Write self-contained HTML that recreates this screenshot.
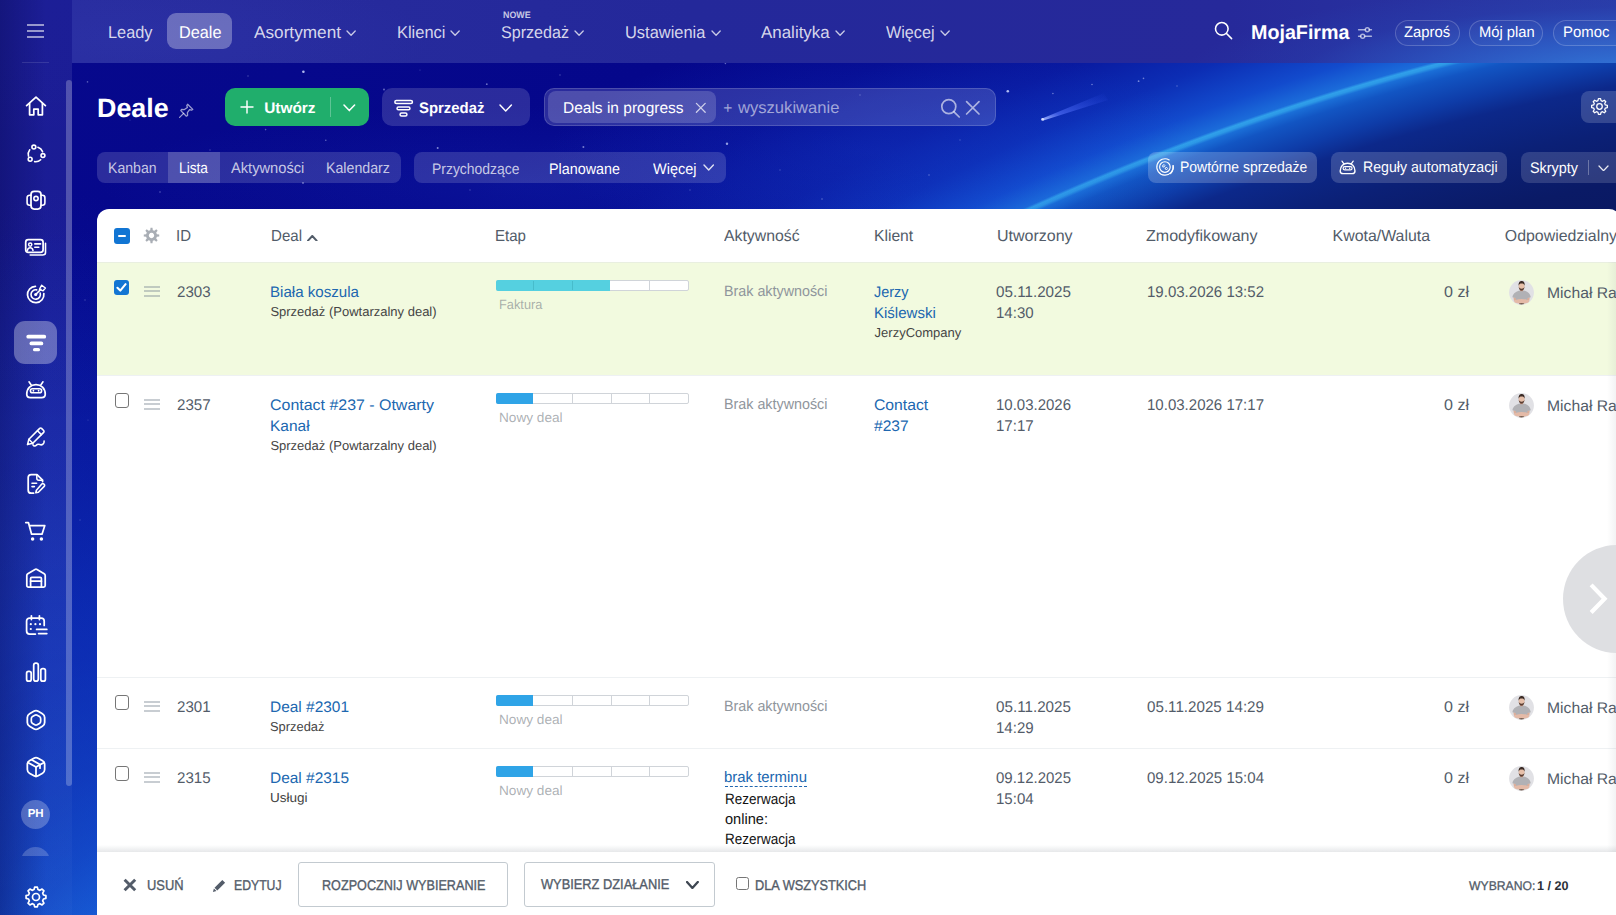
<!DOCTYPE html>
<html lang="pl">
<head>
<meta charset="utf-8">
<title>Deale</title>
<style>
*{box-sizing:border-box;margin:0;padding:0}
html,body{width:1616px;height:915px;overflow:hidden}
body{text-rendering:geometricPrecision;font-family:"Liberation Sans",sans-serif;color:#fff;position:relative;background:#05078b}
.abs{position:absolute}
.t{position:absolute;white-space:nowrap;transform-origin:0 50%}
svg{display:block}
#bg{position:absolute;left:0;top:0;width:1616px;height:915px;overflow:hidden;
 background:
  radial-gradient(ellipse 330px 110px at 880px 150px,rgba(24,70,215,.26),rgba(24,70,215,0)),
  radial-gradient(ellipse 420px 80px at 520px 185px,rgba(30,60,200,.2),rgba(30,60,200,0)),
  linear-gradient(180deg,rgba(16,60,205,0) 230px,rgba(16,60,205,.22) 420px,rgba(16,62,205,.4) 640px,rgba(16,62,205,.3) 915px),
  radial-gradient(ellipse 330px 820px at 60px 1010px, rgba(40,140,225,.5) 0%, rgba(30,115,215,.42) 22%, rgba(22,85,205,.3) 45%, rgba(18,60,190,.16) 70%, rgba(15,40,175,0) 100%),
  radial-gradient(circle 3400px at 2067px 2489px,#06104a 0.000%,#081455 64.706%,#0a1a66 69.118%,#0b2076 70.588%,#0c288a 71.912%,#0e3ca8 72.500%,#1255c3 73.235%,#1a6ed7 73.529%,#2c98e6 73.618%,#30a0ea 73.691%,#1b6cda 73.765%,#124bcd 74.412%,#0c2db4 75.588%,#091aa0 77.059%,#060c91 79.412%,#05078b 82.353%,#080a8d 100.000%);}
#navstrip{position:absolute;left:72px;top:0;width:1544px;height:63px;background:
 radial-gradient(ellipse 460px 95px at 1570px 78px,rgba(52,128,222,.95) 0%,rgba(46,104,208,.7) 40%,rgba(40,70,180,.3) 75%,rgba(38,44,156,0) 100%),
 radial-gradient(ellipse 300px 70px at 60px 40px,rgba(50,58,178,.3),rgba(50,58,178,0)),
 linear-gradient(90deg,#282c9e 0%,#24289a 40%,#26299a 75%,#2a3aa6 100%)}
#side{position:absolute;left:0;top:0;width:72px;height:915px;background:linear-gradient(90deg,rgba(0,0,60,.28) 0,rgba(0,0,60,0) 46px),linear-gradient(180deg,rgba(255,255,255,.085) 0%,rgba(255,255,255,.07) 60%,rgba(255,255,255,.02) 100%)}
#sb{position:absolute;left:66px;top:80px;width:6px;height:706px;border-radius:3px;background:rgba(255,255,255,.24)}
.gl{background:rgba(255,255,255,.15);position:absolute}
#panel{position:absolute;left:97px;top:209px;width:1524px;height:706px;background:#fff;border-radius:12px 12px 0 0;overflow:hidden;color:#535c69}
</style>
</head>
<body>
<div id="bg"><svg class="abs" style="left:0;top:0" width="1616" height="915"><defs><linearGradient id="cm" x1="0" y1="1" x2="1" y2="0"><stop offset="0" stop-color="#b8c8ff" stop-opacity=".95"/><stop offset=".25" stop-color="#5a78ff" stop-opacity=".6"/><stop offset="1" stop-color="#3050f0" stop-opacity="0"/></linearGradient></defs><path d="M1041.5 118.8 L1104 93 L1108 100 L1043.4 120.6 Z" fill="url(#cm)"/><circle cx="1042.6" cy="119.4" r="1.4" fill="#dfe6ff" opacity=".9"/><circle cx="303.4" cy="71.8" r="1.3" fill="#cfd8ff" opacity="0.85"/><circle cx="486.8" cy="84.2" r="0.9" fill="#cfd8ff" opacity="0.50"/><circle cx="437.7" cy="148.0" r="1.0" fill="#cfd8ff" opacity="0.60"/><circle cx="325.8" cy="140.3" r="0.8" fill="#cfd8ff" opacity="0.45"/><circle cx="265.6" cy="129.6" r="0.8" fill="#cfd8ff" opacity="0.40"/><circle cx="384.0" cy="89.5" r="0.9" fill="#cfd8ff" opacity="0.50"/><circle cx="303.0" cy="183.0" r="0.9" fill="#cfd8ff" opacity="0.50"/><circle cx="160.0" cy="192.0" r="0.8" fill="#cfd8ff" opacity="0.40"/><circle cx="87.5" cy="81.9" r="0.8" fill="#cfd8ff" opacity="0.40"/><circle cx="1007.8" cy="91.2" r="1.3" fill="#cfd8ff" opacity="0.85"/><circle cx="727.0" cy="143.7" r="1.2" fill="#cfd8ff" opacity="0.70"/><circle cx="583.4" cy="147.0" r="1.0" fill="#cfd8ff" opacity="0.55"/><circle cx="725.4" cy="63.5" r="0.8" fill="#cfd8ff" opacity="0.45"/><circle cx="1052.9" cy="93.5" r="0.8" fill="#cfd8ff" opacity="0.50"/><circle cx="929.0" cy="175.0" r="0.8" fill="#cfd8ff" opacity="0.40"/><circle cx="822.0" cy="199.0" r="0.8" fill="#cfd8ff" opacity="0.40"/><circle cx="1092.0" cy="84.5" r="0.8" fill="#cfd8ff" opacity="0.50"/><circle cx="1138.6" cy="81.2" r="0.9" fill="#cfd8ff" opacity="0.55"/><circle cx="1143.5" cy="78.4" r="0.8" fill="#cfd8ff" opacity="0.50"/><circle cx="1177.0" cy="86.0" r="0.7" fill="#cfd8ff" opacity="0.40"/><circle cx="640.0" cy="110.0" r="0.7" fill="#cfd8ff" opacity="0.35"/><circle cx="560.0" cy="75.0" r="0.7" fill="#cfd8ff" opacity="0.35"/><circle cx="860.0" cy="95.0" r="0.7" fill="#cfd8ff" opacity="0.35"/><circle cx="780.0" cy="170.0" r="0.7" fill="#cfd8ff" opacity="0.30"/><circle cx="470.0" cy="190.0" r="0.7" fill="#cfd8ff" opacity="0.30"/><circle cx="210.0" cy="150.0" r="0.7" fill="#cfd8ff" opacity="0.30"/><circle cx="130.0" cy="120.0" r="0.6" fill="#cfd8ff" opacity="0.30"/><circle cx="690.0" cy="190.0" r="0.7" fill="#cfd8ff" opacity="0.30"/><circle cx="960.0" cy="140.0" r="0.7" fill="#cfd8ff" opacity="0.30"/><circle cx="85.0" cy="300.0" r="0.7" fill="#cfd8ff" opacity="0.30"/><circle cx="80.0" cy="520.0" r="0.7" fill="#cfd8ff" opacity="0.25"/><circle cx="88.0" cy="420.0" r="0.6" fill="#cfd8ff" opacity="0.25"/><circle cx="248.0" cy="76.0" r="0.7" fill="#cfd8ff" opacity="0.35"/><circle cx="420.0" cy="70.0" r="0.6" fill="#cfd8ff" opacity="0.30"/></svg>
</div>
<div id="side"></div>
<div id="navstrip"></div>
<div id="sb"></div>
<div class="abs" style="left:27px;top:23.5px;width:17px;height:14px;border-top:2px solid rgba(255,255,255,.55);border-bottom:2px solid rgba(255,255,255,.55)"><div style="margin-top:4px;height:2px;background:rgba(255,255,255,.55)"></div></div>
<div class="abs" style="left:22px;top:62px;width:27px;height:1px;background:rgba(255,255,255,.12)"></div>
<div class="abs" style="left:14px;top:321px;width:43px;height:43px;border-radius:11px;background:rgba(255,255,255,.32)"></div>
<svg class="abs" style="left:23.5px;top:94.0px" width="24" height="24" viewBox="0 0 24 24" fill="none" stroke="#fff" stroke-width="1.75" stroke-linecap="round" stroke-linejoin="round"><path d="M2.6 11.6 L12 3.2 L21.4 11.6"/><path d="M5.6 9.6 V20.8 H9.8 V15.2 H14.2 V20.8 H18.4 V9.6"/></svg>
<svg class="abs" style="left:23.5px;top:141.0px" width="24" height="24" viewBox="0 0 24 24" fill="none" stroke="#fff" stroke-width="1.75" stroke-linecap="round" stroke-linejoin="round"><circle cx="9.86" cy="6.12" r="1.95" stroke-width="1.6"/><circle cx="18.94" cy="14.58" r="1.95" stroke-width="1.6"/><circle cx="6.15" cy="18.25" r="1.95" stroke-width="1.6"/><path d="M13.94 6.26 A7.40 7.40 0 0 1 18.56 10.65" stroke-width="1.6"/><path d="M16.70 18.71 A7.40 7.40 0 0 1 10.62 20.63" stroke-width="1.6"/><path d="M4.47 15.09 A7.40 7.40 0 0 1 5.74 8.85" stroke-width="1.6"/></svg>
<svg class="abs" style="left:23.5px;top:188.0px" width="24" height="24" viewBox="0 0 24 24" fill="none" stroke="#fff" stroke-width="1.75" stroke-linecap="round" stroke-linejoin="round"><rect x="7" y="3.4" width="10" height="17.6" rx="3.2"/><circle cx="12" cy="10.5" r="2.15" stroke-width="1.6"/><path d="M7 7.2 H5.6 a2.5 2.5 0 0 0 -2.5 2.5 V14.7 a2.5 2.5 0 0 0 2.5 2.5 H7" stroke-width="1.6"/><path d="M17 7.2 H18.4 a2.5 2.5 0 0 1 2.5 2.5 V14.7 a2.5 2.5 0 0 1 -2.5 2.5 H17" stroke-width="1.6"/></svg>
<svg class="abs" style="left:23.5px;top:235.0px" width="24" height="24" viewBox="0 0 24 24" fill="none" stroke="#fff" stroke-width="1.75" stroke-linecap="round" stroke-linejoin="round"><rect x="1.7" y="4.7" width="17.4" height="12.6" rx="2.6"/><path d="M21.5 8.2 V17.4 a2.6 2.6 0 0 1 -2.6 2.6 H6.2" stroke-width="1.6"/><circle cx="6.2" cy="9.6" r="1.6" stroke-width="1.5"/><path d="M3.4 15.6 c0.2-2 1.3-2.9 2.8-2.9 s2.6 0.9 2.8 2.9" stroke-width="1.5"/><path d="M10.8 8.9 H16.6" stroke-width="1.6"/><path d="M10.8 12.2 H14.8" stroke-width="1.6"/></svg>
<svg class="abs" style="left:23.5px;top:282.0px" width="24" height="24" viewBox="0 0 24 24" fill="none" stroke="#fff" stroke-width="1.75" stroke-linecap="round" stroke-linejoin="round"><path d="M11.41 4.30 A8.20 8.20 0 1 0 19.86 11.64"/><path d="M12.68 7.90 A4.70 4.70 0 1 0 16.17 11.05" stroke-width="1.6"/><circle cx="11.7" cy="12.5" r="1.6" fill="#fff" stroke="none"/><path d="M11.7 12.5 L16.8 7.4" stroke-width="1.6"/><path d="M17.7 3.2 L21.4 6 L19.1 8.8 L15.4 7.4 Z" stroke-width="1.4"/></svg>
<svg class="abs" style="left:23.5px;top:330.0px" width="24" height="24" viewBox="0 0 24 24" fill="none" stroke="#fff" stroke-width="1.75" stroke-linecap="round" stroke-linejoin="round"><g stroke-width="3.7"><path d="M4.2 6.7 H20.3"/><path d="M7.4 13.4 H17.4"/><path d="M10.6 19.7 H14.4" stroke-width="3.3"/></g></svg>
<svg class="abs" style="left:23.5px;top:378.2px" width="24" height="24" viewBox="0 0 24 24" fill="none" stroke="#fff" stroke-width="1.75" stroke-linecap="round" stroke-linejoin="round"><path d="M2.75 16.2 C2.75 10 7 6.55 12 6.55 C17 6.55 21.25 10 21.25 16.2 C21.25 18.6 20 19.55 17.6 19.55 H6.4 C4 19.55 2.75 18.6 2.75 16.2 Z"/><rect x="6.4" y="10.7" width="11.2" height="4.1" rx="2.05" stroke-width="1.6"/><circle cx="9.4" cy="12.75" r="0.9" fill="#fff" stroke="none"/><circle cx="14.6" cy="12.75" r="0.9" fill="#fff" stroke="none"/><path d="M7.2 7 L5 3.8" stroke-width="1.6"/><path d="M16.8 7 L19 3.8" stroke-width="1.6"/></svg>
<svg class="abs" style="left:23.5px;top:425.0px" width="24" height="24" viewBox="0 0 24 24" fill="none" stroke="#fff" stroke-width="1.75" stroke-linecap="round" stroke-linejoin="round"><path d="M15.7 3.4 a1.3 1.3 0 0 1 1.84 0 l2.1 2.1 a1.3 1.3 0 0 1 0 1.84 L8.8 18.2 L3.5 19.6 L4.9 14.3 Z" stroke-width="1.6"/><path d="M13.5 5.7 L17.4 9.6" stroke-width="1.5"/><path d="M4.9 14.3 L8.8 18.2" stroke-width="1.5"/><path d="M9 19.8 c0.9 1.7 2.5 1.5 3.3 0.5 c0.8-1 2-1.3 3.5-0.7 c2.4 0.9 4.6-0.8 4.3-3.5" stroke-width="1.6"/></svg>
<svg class="abs" style="left:23.5px;top:471.6px" width="24" height="24" viewBox="0 0 24 24" fill="none" stroke="#fff" stroke-width="1.75" stroke-linecap="round" stroke-linejoin="round"><path d="M9.6 21.2 H7.2 a3 3 0 0 1 -3-3 V5.6 a3 3 0 0 1 3-3 H13 L18.6 8.2 V9.6"/><path d="M12.8 2.8 V6.2 a2 2 0 0 0 2 2 H18.4" stroke-width="1.5"/><path d="M8 11.2 H12.6" stroke-width="1.6"/><path d="M8 14.6 H10.4" stroke-width="1.6"/><path d="M17.8 12 a1.4 1.4 0 0 1 2 0 l0.4 0.4 a1.4 1.4 0 0 1 0 2 L14.4 20.2 L11.8 20.8 L12.4 18.2 Z" stroke-width="1.6"/></svg>
<svg class="abs" style="left:23.5px;top:519.0px" width="24" height="24" viewBox="0 0 24 24" fill="none" stroke="#fff" stroke-width="1.75" stroke-linecap="round" stroke-linejoin="round"><path d="M1.8 3.6 H4.4 L7.6 15.2 H18 L20.8 6.6 H5.4"/><circle cx="8.6" cy="19.9" r="1.75" fill="#fff" stroke="none"/><circle cx="17.4" cy="19.9" r="1.75" fill="#fff" stroke="none"/></svg>
<svg class="abs" style="left:23.5px;top:565.6px" width="24" height="24" viewBox="0 0 24 24" fill="none" stroke="#fff" stroke-width="1.75" stroke-linecap="round" stroke-linejoin="round"><path d="M2.8 19.4 V9.4 a2 2 0 0 1 1-1.7 L11 3.5 a2 2 0 0 1 2 0 L20.2 7.7 a2 2 0 0 1 1 1.7 V19.4 a1.6 1.6 0 0 1 -1.6 1.6 H4.4 a1.6 1.6 0 0 1 -1.6-1.6 Z"/><path d="M6.6 21 V12.6 a1.2 1.2 0 0 1 1.2-1.2 H16.2 a1.2 1.2 0 0 1 1.2 1.2 V21"/><path d="M6.6 15.2 H17.4"/></svg>
<svg class="abs" style="left:23.5px;top:612.8px" width="24" height="24" viewBox="0 0 24 24" fill="none" stroke="#fff" stroke-width="1.75" stroke-linecap="round" stroke-linejoin="round"><path d="M11.4 21 H5.6 a3 3 0 0 1 -3-3 V8 a3 3 0 0 1 3-3 H17.2 a3 3 0 0 1 3 3 V12.4"/><path d="M7.4 2.8 V6.6"/><path d="M15.4 2.8 V6.6"/><g fill="#fff" stroke="none"><circle cx="6.8" cy="11.2" r="1.1"/><circle cx="11.4" cy="11.2" r="1.1"/><circle cx="16" cy="11.2" r="1.1"/><circle cx="6.8" cy="16" r="1.1"/></g><path d="M12.6 16.4 H22.8"/><path d="M14.6 20.6 H22.8"/></svg>
<svg class="abs" style="left:23.5px;top:659.8px" width="24" height="24" viewBox="0 0 24 24" fill="none" stroke="#fff" stroke-width="1.75" stroke-linecap="round" stroke-linejoin="round"><rect x="2.6" y="11.4" width="4.6" height="9.8" rx="2"/><rect x="9.7" y="3" width="4.6" height="18.2" rx="2.2"/><rect x="16.8" y="8.6" width="4.6" height="12.6" rx="2"/></svg>
<svg class="abs" style="left:23.5px;top:708.0px" width="24" height="24" viewBox="0 0 24 24" fill="none" stroke="#fff" stroke-width="1.75" stroke-linecap="round" stroke-linejoin="round"><path d="M9.75 3.30 Q12.00 2.00 14.25 3.30 L18.41 5.70 Q20.66 7.00 20.66 9.60 L20.66 14.40 Q20.66 17.00 18.41 18.30 L14.25 20.70 Q12.00 22.00 9.75 20.70 L5.59 18.30 Q3.34 17.00 3.34 14.40 L3.34 9.60 Q3.34 7.00 5.59 5.70 Z" stroke-width="1.8"/><path d="M10.79 7.30 Q12.00 6.60 13.21 7.30 L15.46 8.60 Q16.68 9.30 16.68 10.70 L16.68 13.30 Q16.68 14.70 15.46 15.40 L13.21 16.70 Q12.00 17.40 10.79 16.70 L8.54 15.40 Q7.32 14.70 7.32 13.30 L7.32 10.70 Q7.32 9.30 8.54 8.60 Z" stroke-width="1.7"/></svg>
<svg class="abs" style="left:23.5px;top:755.0px" width="24" height="24" viewBox="0 0 24 24" fill="none" stroke="#fff" stroke-width="1.75" stroke-linecap="round" stroke-linejoin="round"><path d="M9.92 3.20 Q12.00 2.00 14.08 3.20 L18.58 5.80 Q20.66 7.00 20.66 9.40 L20.66 14.60 Q20.66 17.00 18.58 18.20 L14.08 20.80 Q12.00 22.00 9.92 20.80 L5.42 18.20 Q3.34 17.00 3.34 14.60 L3.34 9.40 Q3.34 7.00 5.42 5.80 Z"/><path d="M3.8 7.4 L12 12 L20.2 7.4"/><path d="M12 12 V21.4"/><path d="M7.6 4.8 L16 9.6 V13.2"/></svg>
<div class="abs" style="left:21px;top:800px;width:29px;height:29px;border-radius:50%;background:rgba(255,255,255,.25);font-weight:bold;font-size:11.5px;line-height:29px;text-align:center;letter-spacing:-.2px">PH</div>
<div class="abs" style="left:21px;top:846.8px;width:29px;height:9.2px;overflow:hidden"><div style="width:29px;height:29px;border-radius:50%;background:rgba(255,255,255,.2)"></div></div>
<svg class="abs" style="left:23.5px;top:885.2px" width="24" height="24" viewBox="0 0 24 24" fill="none" stroke="#fff" stroke-width="1.75" stroke-linecap="round" stroke-linejoin="round"><path d="M10.67 2.09 L13.33 2.09 L13.97 4.56 L15.87 5.34 L18.07 4.05 L19.95 5.93 L18.66 8.13 L19.44 10.03 L21.91 10.67 L21.91 13.33 L19.44 13.97 L18.66 15.87 L19.95 18.07 L18.07 19.95 L15.87 18.66 L13.97 19.44 L13.33 21.91 L10.67 21.91 L10.03 19.44 L8.13 18.66 L5.93 19.95 L4.05 18.07 L5.34 15.87 L4.56 13.97 L2.09 13.33 L2.09 10.67 L4.56 10.03 L5.34 8.13 L4.05 5.93 L5.93 4.05 L8.13 5.34 L10.03 4.56Z" stroke-width="1.7" stroke-linejoin="round"/><circle cx="12" cy="12" r="3.5" stroke-width="1.7"/></svg>
<div class="abs" style="left:167px;top:13px;width:65px;height:36px;border-radius:9px;background:rgba(255,255,255,.3)"></div>
<span class="t" style="left:107.70px;top:24px;font-size:17.0px;line-height:17px;transform:scaleX(0.9607);color:rgba(255,255,255,.82);">Leady</span>
<span class="t" style="left:178.70px;top:24px;font-size:17.0px;line-height:17px;transform:scaleX(0.9568);color:#fff;">Deale</span>
<span class="t" style="left:254.20px;top:24px;font-size:17.0px;line-height:17px;transform:scaleX(1.0120);color:rgba(255,255,255,.82);">Asortyment</span>
<svg class="abs" style="left:345.80px;top:29.90px" width="10.2" height="6.3" fill="none" stroke="rgba(255,255,255,.75)" stroke-width="1.30" stroke-linecap="round" stroke-linejoin="round"><path d="M1.00 1.00 L5.10 5.30 L9.20 1.00"/></svg>
<span class="t" style="left:396.80px;top:24px;font-size:17.0px;line-height:17px;transform:scaleX(0.9665);color:rgba(255,255,255,.82);">Klienci</span>
<svg class="abs" style="left:450.30px;top:29.90px" width="10.2" height="6.3" fill="none" stroke="rgba(255,255,255,.75)" stroke-width="1.30" stroke-linecap="round" stroke-linejoin="round"><path d="M1.00 1.00 L5.10 5.30 L9.20 1.00"/></svg>
<span class="t" style="left:501.20px;top:24px;font-size:17.0px;line-height:17px;transform:scaleX(0.9468);color:rgba(255,255,255,.82);">Sprzedaż</span>
<svg class="abs" style="left:574.30px;top:29.90px" width="10.2" height="6.3" fill="none" stroke="rgba(255,255,255,.75)" stroke-width="1.30" stroke-linecap="round" stroke-linejoin="round"><path d="M1.00 1.00 L5.10 5.30 L9.20 1.00"/></svg>
<span class="t" style="left:625.20px;top:24px;font-size:17.0px;line-height:17px;transform:scaleX(0.9669);color:rgba(255,255,255,.82);">Ustawienia</span>
<svg class="abs" style="left:710.50px;top:29.90px" width="10.2" height="6.3" fill="none" stroke="rgba(255,255,255,.75)" stroke-width="1.30" stroke-linecap="round" stroke-linejoin="round"><path d="M1.00 1.00 L5.10 5.30 L9.20 1.00"/></svg>
<span class="t" style="left:761.20px;top:24px;font-size:17.0px;line-height:17px;transform:scaleX(0.9959);color:rgba(255,255,255,.82);">Analityka</span>
<svg class="abs" style="left:835.00px;top:29.90px" width="10.2" height="6.3" fill="none" stroke="rgba(255,255,255,.75)" stroke-width="1.30" stroke-linecap="round" stroke-linejoin="round"><path d="M1.00 1.00 L5.10 5.30 L9.20 1.00"/></svg>
<span class="t" style="left:885.70px;top:24px;font-size:17.0px;line-height:17px;transform:scaleX(0.9508);color:rgba(255,255,255,.82);">Więcej</span>
<svg class="abs" style="left:940.30px;top:29.90px" width="10.2" height="6.3" fill="none" stroke="rgba(255,255,255,.75)" stroke-width="1.30" stroke-linecap="round" stroke-linejoin="round"><path d="M1.00 1.00 L5.10 5.30 L9.20 1.00"/></svg>
<span class="t" style="left:502.60px;top:11px;font-size:9.3px;line-height:9px;transform:scaleX(0.9540);font-weight:bold;color:rgba(255,255,255,.75);">NOWE</span>
<svg class="abs" style="left:1212px;top:19px" width="24" height="24" viewBox="0 0 24 24" fill="none" stroke="#fff" stroke-width="1.55" stroke-linecap="round"><circle cx="9.8" cy="9.8" r="6.3"/><path d="M14.5 14.5 L19.6 19.6"/></svg>
<span class="t" style="left:1251.20px;top:23px;font-size:20.0px;line-height:20px;transform:scaleX(0.9848);font-weight:bold;color:#fff;">MojaFirma</span>
<svg class="abs" style="left:1357px;top:25px" width="16" height="16" viewBox="0 0 16 16" fill="none" stroke="rgba(255,255,255,.62)" stroke-width="1.5" stroke-linecap="round"><path d="M1.6 4.8 H8.2 M12.4 4.8 H14.4"/><circle cx="10.3" cy="4.8" r="2"/><path d="M1.6 11.2 H3.6 M7.8 11.2 H14.4"/><circle cx="5.7" cy="11.2" r="2"/></svg>
<div class="abs" style="left:1395.0px;top:20px;width:64.6px;height:26px;border:1px solid rgba(255,255,255,.2);border-radius:13px;background:rgba(255,255,255,.03)"></div>
<span class="t" style="left:1404.40px;top:25px;font-size:15.2px;line-height:15px;transform:scaleX(0.9766);color:#fff;">Zaproś</span>
<div class="abs" style="left:1469.0px;top:20px;width:74.4px;height:26px;border:1px solid rgba(255,255,255,.2);border-radius:13px;background:rgba(255,255,255,.03)"></div>
<span class="t" style="left:1479.00px;top:25px;font-size:15.2px;line-height:15px;transform:scaleX(0.9712);color:#fff;">Mój plan</span>
<div class="abs" style="left:1553.0px;top:20px;width:87.0px;height:26px;border:1px solid rgba(255,255,255,.2);border-radius:13px;background:rgba(255,255,255,.03)"></div>
<span class="t" style="left:1563.20px;top:25px;font-size:15.2px;line-height:15px;transform:scaleX(0.9808);color:#fff;">Pomoc</span>
<span class="t" style="left:97.20px;top:95px;font-size:26.5px;line-height:26px;transform:scaleX(1.0125);font-weight:bold;color:#fff;">Deale</span>
<svg class="abs" style="left:178px;top:101.7px" width="17" height="17" viewBox="0 0 17 17" fill="none" stroke="rgba(255,255,255,.6)" stroke-width="1.3" stroke-linecap="round" stroke-linejoin="round"><path d="M9.6 2.2 L14.8 7.4 L13.4 8.2 L11.6 7.6 L9.4 10.6 L9.6 13.4 L8.4 14.2 L2.8 8.6 L3.6 7.4 L6.4 7.6 L9.4 5.4 L8.8 3.6 Z"/><path d="M5.6 11.4 L1.6 15.4"/></svg>
<div class="abs" style="left:225px;top:88px;width:144px;height:38px;border-radius:10px;background:#20ae6c"></div>
<div class="abs" style="left:330px;top:96.5px;width:1px;height:20px;background:rgba(255,255,255,.28)"></div>
<svg class="abs" style="left:239.4px;top:99.4px" width="16" height="16" fill="none" stroke="#fff" stroke-width="1.45" stroke-linecap="round"><path d="M8 2 V14 M2 8 H14"/></svg>
<span class="t" style="left:264.20px;top:101px;font-size:15.4px;line-height:15px;font-weight:bold;color:#fff;">Utwórz</span>
<svg class="abs" style="left:343.40px;top:104.20px" width="12.6" height="7.6" fill="none" stroke="#fff" stroke-width="1.50" stroke-linecap="round" stroke-linejoin="round"><path d="M1.00 1.00 L6.30 6.60 L11.60 1.00"/></svg>
<div class="gl" style="left:382px;top:88px;width:148px;height:38px;border-radius:10px"></div>
<svg class="abs" style="left:393px;top:97px" width="22" height="22" viewBox="0 0 22 22" fill="none" stroke="#fff" stroke-width="1.5" stroke-linecap="round" stroke-linejoin="round"><rect x="1.85" y="3.45" width="17.6" height="3.1" rx="1.55"/><rect x="4.05" y="10.05" width="12.9" height="2.7" rx="1.35"/><rect x="7.05" y="15.95" width="6.9" height="3" rx="1.5"/></svg>
<span class="t" style="left:419.20px;top:101px;font-size:15.3px;line-height:15px;transform:scaleX(0.9737);font-weight:bold;color:#fff;">Sprzedaż</span>
<svg class="abs" style="left:499.20px;top:103.80px" width="13.4" height="8.0" fill="none" stroke="#fff" stroke-width="1.45" stroke-linecap="round" stroke-linejoin="round"><path d="M1.00 1.00 L6.70 7.00 L12.40 1.00"/></svg>
<div class="abs" style="left:544px;top:88px;width:452px;height:38px;border-radius:10px;background:rgba(255,255,255,.15);border:1px solid rgba(255,255,255,.16)"></div>
<div class="abs" style="left:548px;top:91px;width:168px;height:32px;border-radius:8px;background:rgba(255,255,255,.17)"></div>
<span class="t" style="left:562.60px;top:101px;font-size:15.6px;line-height:16px;transform:scaleX(0.9935);color:#fff;">Deals in progress</span>
<svg class="abs" style="left:694px;top:101px" width="14" height="14" fill="none" stroke="rgba(255,255,255,.72)" stroke-width="1.3" stroke-linecap="round"><path d="M2.4 2.4 L11.2 11.2 M11.2 2.4 L2.4 11.2"/></svg>
<span class="t" style="left:723.20px;top:101px;font-size:15.6px;line-height:16px;color:rgba(255,255,255,.56);">+</span>
<span class="t" style="left:738.00px;top:100px;font-size:16.4px;line-height:16px;transform:scaleX(1.0124);color:rgba(255,255,255,.56);">wyszukiwanie</span>
<svg class="abs" style="left:938px;top:96px" width="24" height="24" viewBox="0 0 24 24" fill="none" stroke="rgba(255,255,255,.6)" stroke-width="1.7" stroke-linecap="round"><circle cx="10.8" cy="10.6" r="7"/><path d="M16 15.8 L21.2 21"/></svg>
<svg class="abs" style="left:963px;top:98px" width="20" height="20" viewBox="0 0 20 20" fill="none" stroke="rgba(255,255,255,.6)" stroke-width="1.7" stroke-linecap="round"><path d="M3.6 3.6 L16 16 M16 3.6 L3.6 16"/></svg>
<div class="gl" style="left:1581px;top:91px;width:45px;height:32px;border-radius:8px;background:rgba(255,255,255,.17)"></div>
<svg class="abs" style="left:1590.4px;top:97.4px" width="19" height="19" viewBox="0 0 24 24" fill="none" stroke="#fff" stroke-width="1.6" stroke-linejoin="round"><path d="M10.67 2.09 L13.33 2.09 L13.95 4.65 L15.82 5.43 L18.07 4.05 L19.95 5.93 L18.57 8.18 L19.35 10.05 L21.91 10.67 L21.91 13.33 L19.35 13.95 L18.57 15.82 L19.95 18.07 L18.07 19.95 L15.82 18.57 L13.95 19.35 L13.33 21.91 L10.67 21.91 L10.05 19.35 L8.18 18.57 L5.93 19.95 L4.05 18.07 L5.43 15.82 L4.65 13.95 L2.09 13.33 L2.09 10.67 L4.65 10.05 L5.43 8.18 L4.05 5.93 L5.93 4.05 L8.18 5.43 L10.05 4.65Z"/><circle cx="12" cy="12" r="3.5"/></svg>
<div class="gl" style="left:97px;top:152px;width:304px;height:31px;border-radius:8px;overflow:hidden"><div class="abs" style="left:71px;top:0;width:52px;height:31px;background:rgba(255,255,255,.17)"></div></div>
<span class="t" style="left:108.20px;top:161px;font-size:15.2px;line-height:15px;transform:scaleX(0.9274);color:rgba(255,255,255,.74);">Kanban</span>
<span class="t" style="left:179.40px;top:161px;font-size:15.2px;line-height:15px;transform:scaleX(0.9032);color:#fff;">Lista</span>
<span class="t" style="left:230.80px;top:161px;font-size:15.2px;line-height:15px;transform:scaleX(0.9655);color:rgba(255,255,255,.74);">Aktywności</span>
<span class="t" style="left:326.00px;top:161px;font-size:15.2px;line-height:15px;transform:scaleX(0.9351);color:rgba(255,255,255,.74);">Kalendarz</span>
<div class="gl" style="left:414px;top:152px;width:312px;height:31px;border-radius:8px"></div>
<span class="t" style="left:432.00px;top:162px;font-size:15.2px;line-height:15px;transform:scaleX(0.9176);color:rgba(255,255,255,.74);">Przychodzące</span>
<span class="t" style="left:548.60px;top:162px;font-size:15.2px;line-height:15px;transform:scaleX(0.9440);color:#fff;">Planowane</span>
<span class="t" style="left:653.20px;top:162px;font-size:15.2px;line-height:15px;transform:scaleX(0.9560);color:#fff;">Więcej</span>
<svg class="abs" style="left:703.00px;top:164.30px" width="11.4" height="7.0" fill="none" stroke="rgba(255,255,255,.85)" stroke-width="1.40" stroke-linecap="round" stroke-linejoin="round"><path d="M1.00 1.00 L5.70 6.00 L10.40 1.00"/></svg>
<div class="abs" style="left:1148px;top:152px;width:169px;height:31px;border-radius:8px;background:rgba(255,255,255,.2)"></div>
<svg class="abs" style="left:1154.5px;top:157.3px" width="20" height="20" viewBox="0 0 20 20" fill="none" stroke="#fff" stroke-width="1.15" stroke-linecap="round" stroke-linejoin="round"><path d="M14.2 2.9 A8.2 8.2 0 1 0 18.1 8.6"/><path d="M18.1 8.6 C18.5 12 17.6 14.8 15.6 16.6"/><circle cx="9.9" cy="10" r="5.3"/><path d="M8 8.2 l1.2 -0.6 l0.8 1 l-0.6 1.2 l-1.2 0.2 Z M10.6 10.8 l1.2 -0.4 l0.8 1 l-0.8 1.2 l-1.2 -0.4 Z" stroke-width=".9"/></svg>
<span class="t" style="left:1180.20px;top:160px;font-size:15.1px;line-height:15px;transform:scaleX(0.9255);color:#fff;">Powtórne sprzedaże</span>
<div class="abs" style="left:1331px;top:152px;width:176px;height:31px;border-radius:8px;background:rgba(255,255,255,.17)"></div>
<svg class="abs" style="left:1337.9px;top:157.6px" width="19.2" height="19.2" viewBox="0 0 24 24" fill="none" stroke="#fff" stroke-width="1.75" stroke-linecap="round" stroke-linejoin="round"><path d="M2.75 16.2 C2.75 10 7 6.55 12 6.55 C17 6.55 21.25 10 21.25 16.2 C21.25 18.6 20 19.55 17.6 19.55 H6.4 C4 19.55 2.75 18.6 2.75 16.2 Z"/><rect x="6.4" y="10.7" width="11.2" height="4.1" rx="2.05" stroke-width="1.5"/><circle cx="9.4" cy="12.75" r="0.9" fill="#fff" stroke="none"/><circle cx="14.6" cy="12.75" r="0.9" fill="#fff" stroke="none"/><path d="M7.2 7 L5 3.8" stroke-width="1.5"/><path d="M16.8 7 L19 3.8" stroke-width="1.5"/></svg>
<span class="t" style="left:1362.80px;top:160px;font-size:15.1px;line-height:15px;transform:scaleX(0.9379);color:#fff;">Reguły automatyzacji</span>
<div class="abs" style="left:1521px;top:152px;width:110px;height:31px;border-radius:8px;background:rgba(255,255,255,.15)"></div>
<span class="t" style="left:1530.40px;top:161px;font-size:15.4px;line-height:15px;transform:scaleX(0.9349);color:#fff;">Skrypty</span>
<div class="abs" style="left:1588px;top:160px;width:1px;height:15px;background:rgba(255,255,255,.3)"></div>
<svg class="abs" style="left:1598.40px;top:164.50px" width="11.0" height="6.7" fill="none" stroke="rgba(255,255,255,.9)" stroke-width="1.25" stroke-linecap="round" stroke-linejoin="round"><path d="M1.00 1.00 L5.50 5.70 L10.00 1.00"/></svg>
<div id="panel">
<div class="abs" style="left:-97px;top:-209px;width:1616px;height:915px">
<div class="abs" style="left:114px;top:228px;width:16px;height:16px;border-radius:3px;background:#1175d3"></div><div class="abs" style="left:117.6px;top:234.8px;width:8.8px;height:2.4px;border-radius:1px;background:#fff"></div>
<svg class="abs" style="left:143px;top:227px" width="17" height="17" viewBox="0 0 24 24" fill="#a9aeb5"><path fill-rule="evenodd" d="M10.62 1.09 L13.38 1.09 L13.82 4.42 L16.08 5.35 L18.74 3.31 L20.69 5.26 L18.65 7.92 L19.58 10.18 L22.91 10.62 L22.91 13.38 L19.58 13.82 L18.65 16.08 L20.69 18.74 L18.74 20.69 L16.08 18.65 L13.82 19.58 L13.38 22.91 L10.62 22.91 L10.18 19.58 L7.92 18.65 L5.26 20.69 L3.31 18.74 L5.35 16.08 L4.42 13.82 L1.09 13.38 L1.09 10.62 L4.42 10.18 L5.35 7.92 L3.31 5.26 L5.26 3.31 L7.92 5.35 L10.18 4.42Z M12 8.2 a3.8 3.8 0 1 0 0.001 0 Z"/></svg>
<span class="t" style="left:176.40px;top:229px;font-size:15.9px;line-height:16px;transform:scaleX(0.9434);color:#525c69;">ID</span>
<span class="t" style="left:270.60px;top:229px;font-size:15.9px;line-height:16px;transform:scaleX(0.9480);color:#525c69;">Deal</span>
<span class="t" style="left:495.40px;top:229px;font-size:15.9px;line-height:16px;transform:scaleX(0.9478);color:#525c69;">Etap</span>
<span class="t" style="left:724.40px;top:229px;font-size:15.9px;line-height:16px;transform:scaleX(0.9949);color:#525c69;">Aktywność</span>
<span class="t" style="left:874.00px;top:229px;font-size:15.9px;line-height:16px;transform:scaleX(0.9856);color:#525c69;">Klient</span>
<span class="t" style="left:996.60px;top:229px;font-size:15.9px;line-height:16px;transform:scaleX(1.0066);color:#525c69;">Utworzony</span>
<span class="t" style="left:1146.40px;top:229px;font-size:15.9px;line-height:16px;transform:scaleX(1.0104);color:#525c69;">Zmodyfikowany</span>
<span class="t" style="left:1332.60px;top:229px;font-size:15.9px;line-height:16px;color:#525c69;">Kwota/Waluta</span>
<span class="t" style="left:1504.80px;top:229px;font-size:15.9px;line-height:16px;color:#525c69;">Odpowiedzialny</span>
<svg class="abs" style="left:307.40px;top:234.80px" width="10.6" height="6.6" fill="none" stroke="#525c69" stroke-width="2.00" stroke-linecap="round" stroke-linejoin="round"><path d="M1.00 5.60 L5.30 1.00 L9.60 5.60"/></svg>
<div class="abs" style="left:97px;top:262px;width:1519px;height:113px;background:#f2fadf;border-top:1px solid #e9efe0"></div>
<div class="abs" style="left:97px;top:375.0px;width:1519px;height:1px;background:#eef1f3"></div>
<div class="abs" style="left:97px;top:676.7px;width:1519px;height:1px;background:#eef1f3"></div>
<div class="abs" style="left:97px;top:748.0px;width:1519px;height:1px;background:#eef1f3"></div>
<div class="abs" style="left:114px;top:280.0px;width:15px;height:15px;border-radius:3px;background:#1375d3"></div><svg class="abs" style="left:114px;top:280.0px" width="15" height="15" fill="none" stroke="#fff" stroke-width="2.1" stroke-linecap="round" stroke-linejoin="round"><path d="M3.4 7.8 L6.3 10.6 L11.6 4.2"/></svg>
<div class="abs" style="left:144px;top:285.6px;width:16px;height:2px;background:rgba(125,135,148,.42)"></div><div class="abs" style="left:144px;top:290.3px;width:16px;height:2px;background:rgba(125,135,148,.42)"></div><div class="abs" style="left:144px;top:295.0px;width:16px;height:2px;background:rgba(125,135,148,.42)"></div>
<span class="t" style="left:176.80px;top:285px;font-size:15.5px;line-height:16px;transform:scaleX(0.9744);color:#535c69;">2303</span>
<span class="t" style="left:270.40px;top:285px;font-size:15.3px;line-height:15px;transform:scaleX(0.9872);color:#2067b0;">Biała koszula</span>
<span class="t" style="left:270.40px;top:305px;font-size:13.0px;line-height:13px;color:#444;">Sprzedaż (Powtarzalny deal)</span>
<div class="abs" style="left:495.5px;top:280.0px;width:193.5px;height:10.5px;border:1px solid #d0d4d9;border-radius:2px;background:#fff"></div>
<div class="abs" style="left:495.5px;top:280.0px;width:114.7px;height:10.5px;background:#55d0e0;border-radius:2px 0 0 2px"></div>
<div class="abs" style="left:533.3px;top:281.0px;width:1px;height:8.5px;background:#47bccb"></div>
<div class="abs" style="left:572.0px;top:281.0px;width:1px;height:8.5px;background:#47bccb"></div>
<div class="abs" style="left:649.4px;top:281.0px;width:1px;height:8.5px;background:#d0d4d9"></div>
<span class="t" style="left:498.80px;top:298px;font-size:13.4px;line-height:13px;transform:scaleX(0.9554);color:rgba(125,131,138,.64);">Faktura</span>
<span class="t" style="left:724.40px;top:284px;font-size:15.0px;line-height:15px;transform:scaleX(0.9541);color:#8f959c;">Brak aktywności</span>
<span class="t" style="left:874.40px;top:285px;font-size:15.3px;line-height:15px;transform:scaleX(0.9465);color:#2067b0;">Jerzy</span>
<span class="t" style="left:874.40px;top:306px;font-size:15.3px;line-height:15px;transform:scaleX(0.9823);color:#2067b0;">Kiślewski</span>
<span class="t" style="left:874.60px;top:326px;font-size:13.0px;line-height:13px;color:#444;">JerzyCompany</span>
<span class="t" style="left:996.40px;top:285px;font-size:15.5px;line-height:16px;transform:scaleX(0.9813);color:#535c69;">05.11.2025</span>
<span class="t" style="left:996.40px;top:306px;font-size:15.5px;line-height:16px;transform:scaleX(0.9694);color:#535c69;">14:30</span>
<span class="t" style="left:1146.80px;top:285px;font-size:15.5px;line-height:16px;transform:scaleX(0.9696);color:#535c69;">19.03.2026 13:52</span>
<span class="t" style="left:1444.40px;top:285px;font-size:15.5px;line-height:16px;transform:scaleX(1.0365);color:#535c69;">0 zł</span>
<svg class="abs" style="left:1508.9px;top:279.9px" width="25" height="25" viewBox="0 0 25 25"><defs><clipPath id="cp1"><circle cx="12.5" cy="12.5" r="12.4"/></clipPath></defs><circle cx="12.5" cy="12.5" r="12.4" fill="#e1e1e5"/><g clip-path="url(#cp1)"><path d="M4.4 17.2 L7 17.6 L7.6 20 L5 21 Z M20.8 17.2 L18.2 17.6 L17.6 20 L20.2 21 Z" fill="#dcae9a"/><path d="M3.4 17.2 C4 12.6 8.2 11 10.6 10.4 L14.6 10.4 C17 11 21.2 12.6 21.8 17.2 L18.4 17.9 L18.2 20.4 L7 20.4 L6.8 17.9 Z" fill="#b1b1b5"/><ellipse cx="12.6" cy="21.4" rx="7.5" ry="2.4" fill="#e4baa7"/><ellipse cx="12.6" cy="23.7" rx="2.8" ry="0.7" fill="#7a6254"/><rect x="11.1" y="8.6" width="3" height="2.6" fill="#d7a58d"/><ellipse cx="12.6" cy="6.3" rx="2.9" ry="3.7" fill="#e7c0aa"/><path d="M9.75 6.6 C9.9 10 11.3 10.7 12.6 10.7 C13.9 10.7 15.3 10 15.45 6.6 C14.8 8.5 14 8.7 12.6 8.7 C11.2 8.7 10.4 8.5 9.75 6.6 Z" fill="#5a3e33"/><path d="M9.65 5.8 C9.3 2.2 10.9 0.9 12.8 0.9 C14.8 0.9 16.1 2.4 15.55 5.8 C15.1 3.9 14.4 3.5 12.6 3.5 C10.8 3.5 10.15 3.9 9.65 5.8 Z" fill="#3b2b25"/></g></svg>
<span class="t" style="left:1546.80px;top:286px;font-size:15.4px;line-height:15px;transform:scaleX(1.0204);color:#535c69;">Michał Rad</span>
<div class="abs" style="left:114.5px;top:393.0px;width:14.5px;height:14.5px;border-radius:3px;border:1.4px solid #767676;background:#fff"></div>
<div class="abs" style="left:144px;top:398.6px;width:16px;height:2px;background:rgba(125,135,148,.42)"></div><div class="abs" style="left:144px;top:403.3px;width:16px;height:2px;background:rgba(125,135,148,.42)"></div><div class="abs" style="left:144px;top:408.0px;width:16px;height:2px;background:rgba(125,135,148,.42)"></div>
<span class="t" style="left:176.80px;top:398px;font-size:15.5px;line-height:16px;transform:scaleX(0.9744);color:#535c69;">2357</span>
<span class="t" style="left:270.40px;top:398px;font-size:15.3px;line-height:15px;transform:scaleX(1.0425);color:#2067b0;">Contact #237 - Otwarty</span>
<span class="t" style="left:270.40px;top:419px;font-size:15.3px;line-height:15px;transform:scaleX(1.0120);color:#2067b0;">Kanał</span>
<span class="t" style="left:270.40px;top:439px;font-size:13.0px;line-height:13px;color:#444;">Sprzedaż (Powtarzalny deal)</span>
<div class="abs" style="left:495.5px;top:393.0px;width:193.5px;height:10.5px;border:1px solid #d0d4d9;border-radius:2px;background:#fff"></div>
<div class="abs" style="left:495.5px;top:393.0px;width:37.3px;height:10.5px;background:#2fa4e7;border-radius:2px 0 0 2px"></div>
<div class="abs" style="left:572.0px;top:394.0px;width:1px;height:8.5px;background:#d0d4d9"></div>
<div class="abs" style="left:610.7px;top:394.0px;width:1px;height:8.5px;background:#d0d4d9"></div>
<div class="abs" style="left:649.4px;top:394.0px;width:1px;height:8.5px;background:#d0d4d9"></div>
<span class="t" style="left:498.80px;top:411px;font-size:13.4px;line-height:13px;transform:scaleX(1.0166);color:rgba(125,131,138,.64);">Nowy deal</span>
<span class="t" style="left:724.40px;top:397px;font-size:15.0px;line-height:15px;transform:scaleX(0.9541);color:#8f959c;">Brak aktywności</span>
<span class="t" style="left:874.40px;top:398px;font-size:15.3px;line-height:15px;transform:scaleX(1.0279);color:#2067b0;">Contact</span>
<span class="t" style="left:874.40px;top:419px;font-size:15.3px;line-height:15px;transform:scaleX(1.0165);color:#2067b0;">#237</span>
<span class="t" style="left:996.40px;top:398px;font-size:15.5px;line-height:16px;transform:scaleX(0.9668);color:#535c69;">10.03.2026</span>
<span class="t" style="left:996.40px;top:419px;font-size:15.5px;line-height:16px;transform:scaleX(0.9694);color:#535c69;">17:17</span>
<span class="t" style="left:1146.80px;top:398px;font-size:15.5px;line-height:16px;transform:scaleX(0.9696);color:#535c69;">10.03.2026 17:17</span>
<span class="t" style="left:1444.40px;top:398px;font-size:15.5px;line-height:16px;transform:scaleX(1.0365);color:#535c69;">0 zł</span>
<svg class="abs" style="left:1508.9px;top:392.9px" width="25" height="25" viewBox="0 0 25 25"><defs><clipPath id="cp2"><circle cx="12.5" cy="12.5" r="12.4"/></clipPath></defs><circle cx="12.5" cy="12.5" r="12.4" fill="#e1e1e5"/><g clip-path="url(#cp2)"><path d="M4.4 17.2 L7 17.6 L7.6 20 L5 21 Z M20.8 17.2 L18.2 17.6 L17.6 20 L20.2 21 Z" fill="#dcae9a"/><path d="M3.4 17.2 C4 12.6 8.2 11 10.6 10.4 L14.6 10.4 C17 11 21.2 12.6 21.8 17.2 L18.4 17.9 L18.2 20.4 L7 20.4 L6.8 17.9 Z" fill="#b1b1b5"/><ellipse cx="12.6" cy="21.4" rx="7.5" ry="2.4" fill="#e4baa7"/><ellipse cx="12.6" cy="23.7" rx="2.8" ry="0.7" fill="#7a6254"/><rect x="11.1" y="8.6" width="3" height="2.6" fill="#d7a58d"/><ellipse cx="12.6" cy="6.3" rx="2.9" ry="3.7" fill="#e7c0aa"/><path d="M9.75 6.6 C9.9 10 11.3 10.7 12.6 10.7 C13.9 10.7 15.3 10 15.45 6.6 C14.8 8.5 14 8.7 12.6 8.7 C11.2 8.7 10.4 8.5 9.75 6.6 Z" fill="#5a3e33"/><path d="M9.65 5.8 C9.3 2.2 10.9 0.9 12.8 0.9 C14.8 0.9 16.1 2.4 15.55 5.8 C15.1 3.9 14.4 3.5 12.6 3.5 C10.8 3.5 10.15 3.9 9.65 5.8 Z" fill="#3b2b25"/></g></svg>
<span class="t" style="left:1546.80px;top:399px;font-size:15.4px;line-height:15px;transform:scaleX(1.0204);color:#535c69;">Michał Rad</span>
<div class="abs" style="left:114.5px;top:695.0px;width:14.5px;height:14.5px;border-radius:3px;border:1.4px solid #767676;background:#fff"></div>
<div class="abs" style="left:144px;top:700.6px;width:16px;height:2px;background:rgba(125,135,148,.42)"></div><div class="abs" style="left:144px;top:705.3px;width:16px;height:2px;background:rgba(125,135,148,.42)"></div><div class="abs" style="left:144px;top:710.0px;width:16px;height:2px;background:rgba(125,135,148,.42)"></div>
<span class="t" style="left:176.80px;top:700px;font-size:15.5px;line-height:16px;transform:scaleX(0.9744);color:#535c69;">2301</span>
<span class="t" style="left:270.40px;top:700px;font-size:15.3px;line-height:15px;transform:scaleX(1.0094);color:#2067b0;">Deal #2301</span>
<span class="t" style="left:270.40px;top:720px;font-size:13.0px;line-height:13px;transform:scaleX(0.9905);color:#444;">Sprzedaż</span>
<div class="abs" style="left:495.5px;top:695.0px;width:193.5px;height:10.5px;border:1px solid #d0d4d9;border-radius:2px;background:#fff"></div>
<div class="abs" style="left:495.5px;top:695.0px;width:37.3px;height:10.5px;background:#2fa4e7;border-radius:2px 0 0 2px"></div>
<div class="abs" style="left:572.0px;top:696.0px;width:1px;height:8.5px;background:#d0d4d9"></div>
<div class="abs" style="left:610.7px;top:696.0px;width:1px;height:8.5px;background:#d0d4d9"></div>
<div class="abs" style="left:649.4px;top:696.0px;width:1px;height:8.5px;background:#d0d4d9"></div>
<span class="t" style="left:498.80px;top:713px;font-size:13.4px;line-height:13px;transform:scaleX(1.0166);color:rgba(125,131,138,.64);">Nowy deal</span>
<span class="t" style="left:724.40px;top:699px;font-size:15.0px;line-height:15px;transform:scaleX(0.9541);color:#8f959c;">Brak aktywności</span>
<span class="t" style="left:996.40px;top:700px;font-size:15.5px;line-height:16px;transform:scaleX(0.9813);color:#535c69;">05.11.2025</span>
<span class="t" style="left:996.40px;top:721px;font-size:15.5px;line-height:16px;transform:scaleX(0.9694);color:#535c69;">14:29</span>
<span class="t" style="left:1146.80px;top:700px;font-size:15.5px;line-height:16px;transform:scaleX(0.9789);color:#535c69;">05.11.2025 14:29</span>
<span class="t" style="left:1444.40px;top:700px;font-size:15.5px;line-height:16px;transform:scaleX(1.0365);color:#535c69;">0 zł</span>
<svg class="abs" style="left:1508.9px;top:694.9px" width="25" height="25" viewBox="0 0 25 25"><defs><clipPath id="cp3"><circle cx="12.5" cy="12.5" r="12.4"/></clipPath></defs><circle cx="12.5" cy="12.5" r="12.4" fill="#e1e1e5"/><g clip-path="url(#cp3)"><path d="M4.4 17.2 L7 17.6 L7.6 20 L5 21 Z M20.8 17.2 L18.2 17.6 L17.6 20 L20.2 21 Z" fill="#dcae9a"/><path d="M3.4 17.2 C4 12.6 8.2 11 10.6 10.4 L14.6 10.4 C17 11 21.2 12.6 21.8 17.2 L18.4 17.9 L18.2 20.4 L7 20.4 L6.8 17.9 Z" fill="#b1b1b5"/><ellipse cx="12.6" cy="21.4" rx="7.5" ry="2.4" fill="#e4baa7"/><ellipse cx="12.6" cy="23.7" rx="2.8" ry="0.7" fill="#7a6254"/><rect x="11.1" y="8.6" width="3" height="2.6" fill="#d7a58d"/><ellipse cx="12.6" cy="6.3" rx="2.9" ry="3.7" fill="#e7c0aa"/><path d="M9.75 6.6 C9.9 10 11.3 10.7 12.6 10.7 C13.9 10.7 15.3 10 15.45 6.6 C14.8 8.5 14 8.7 12.6 8.7 C11.2 8.7 10.4 8.5 9.75 6.6 Z" fill="#5a3e33"/><path d="M9.65 5.8 C9.3 2.2 10.9 0.9 12.8 0.9 C14.8 0.9 16.1 2.4 15.55 5.8 C15.1 3.9 14.4 3.5 12.6 3.5 C10.8 3.5 10.15 3.9 9.65 5.8 Z" fill="#3b2b25"/></g></svg>
<span class="t" style="left:1546.80px;top:701px;font-size:15.4px;line-height:15px;transform:scaleX(1.0204);color:#535c69;">Michał Rad</span>
<div class="abs" style="left:114.5px;top:766.0px;width:14.5px;height:14.5px;border-radius:3px;border:1.4px solid #767676;background:#fff"></div>
<div class="abs" style="left:144px;top:771.6px;width:16px;height:2px;background:rgba(125,135,148,.42)"></div><div class="abs" style="left:144px;top:776.3px;width:16px;height:2px;background:rgba(125,135,148,.42)"></div><div class="abs" style="left:144px;top:781.0px;width:16px;height:2px;background:rgba(125,135,148,.42)"></div>
<span class="t" style="left:176.80px;top:771px;font-size:15.5px;line-height:16px;transform:scaleX(0.9744);color:#535c69;">2315</span>
<span class="t" style="left:270.40px;top:771px;font-size:15.3px;line-height:15px;transform:scaleX(1.0094);color:#2067b0;">Deal #2315</span>
<span class="t" style="left:270.40px;top:791px;font-size:13.0px;line-height:13px;transform:scaleX(1.0408);color:#444;">Usługi</span>
<div class="abs" style="left:495.5px;top:766.0px;width:193.5px;height:10.5px;border:1px solid #d0d4d9;border-radius:2px;background:#fff"></div>
<div class="abs" style="left:495.5px;top:766.0px;width:37.3px;height:10.5px;background:#2fa4e7;border-radius:2px 0 0 2px"></div>
<div class="abs" style="left:572.0px;top:767.0px;width:1px;height:8.5px;background:#d0d4d9"></div>
<div class="abs" style="left:610.7px;top:767.0px;width:1px;height:8.5px;background:#d0d4d9"></div>
<div class="abs" style="left:649.4px;top:767.0px;width:1px;height:8.5px;background:#d0d4d9"></div>
<span class="t" style="left:498.80px;top:784px;font-size:13.4px;line-height:13px;transform:scaleX(1.0166);color:rgba(125,131,138,.64);">Nowy deal</span>
<span class="t" style="left:724.40px;top:770px;font-size:15.2px;line-height:15px;transform:scaleX(0.9825);color:#2067b0;">brak terminu</span>
<div class="abs" style="left:725px;top:786.0px;width:82px;height:0;border-top:1px dashed #2067b0"></div>
<span class="t" style="left:724.60px;top:792px;font-size:15.0px;line-height:15px;transform:scaleX(0.9009);color:#111;">Rezerwacja</span>
<span class="t" style="left:724.60px;top:812px;font-size:15.0px;line-height:15px;transform:scaleX(0.9728);color:#111;">online:</span>
<span class="t" style="left:724.60px;top:832px;font-size:15.0px;line-height:15px;transform:scaleX(0.9009);color:#111;">Rezerwacja</span>
<span class="t" style="left:996.40px;top:771px;font-size:15.5px;line-height:16px;transform:scaleX(0.9668);color:#535c69;">09.12.2025</span>
<span class="t" style="left:996.40px;top:792px;font-size:15.5px;line-height:16px;transform:scaleX(0.9694);color:#535c69;">15:04</span>
<span class="t" style="left:1146.80px;top:771px;font-size:15.5px;line-height:16px;transform:scaleX(0.9696);color:#535c69;">09.12.2025 15:04</span>
<span class="t" style="left:1444.40px;top:771px;font-size:15.5px;line-height:16px;transform:scaleX(1.0365);color:#535c69;">0 zł</span>
<svg class="abs" style="left:1508.9px;top:765.9px" width="25" height="25" viewBox="0 0 25 25"><defs><clipPath id="cp4"><circle cx="12.5" cy="12.5" r="12.4"/></clipPath></defs><circle cx="12.5" cy="12.5" r="12.4" fill="#e1e1e5"/><g clip-path="url(#cp4)"><path d="M4.4 17.2 L7 17.6 L7.6 20 L5 21 Z M20.8 17.2 L18.2 17.6 L17.6 20 L20.2 21 Z" fill="#dcae9a"/><path d="M3.4 17.2 C4 12.6 8.2 11 10.6 10.4 L14.6 10.4 C17 11 21.2 12.6 21.8 17.2 L18.4 17.9 L18.2 20.4 L7 20.4 L6.8 17.9 Z" fill="#b1b1b5"/><ellipse cx="12.6" cy="21.4" rx="7.5" ry="2.4" fill="#e4baa7"/><ellipse cx="12.6" cy="23.7" rx="2.8" ry="0.7" fill="#7a6254"/><rect x="11.1" y="8.6" width="3" height="2.6" fill="#d7a58d"/><ellipse cx="12.6" cy="6.3" rx="2.9" ry="3.7" fill="#e7c0aa"/><path d="M9.75 6.6 C9.9 10 11.3 10.7 12.6 10.7 C13.9 10.7 15.3 10 15.45 6.6 C14.8 8.5 14 8.7 12.6 8.7 C11.2 8.7 10.4 8.5 9.75 6.6 Z" fill="#5a3e33"/><path d="M9.65 5.8 C9.3 2.2 10.9 0.9 12.8 0.9 C14.8 0.9 16.1 2.4 15.55 5.8 C15.1 3.9 14.4 3.5 12.6 3.5 C10.8 3.5 10.15 3.9 9.65 5.8 Z" fill="#3b2b25"/></g></svg>
<span class="t" style="left:1546.80px;top:772px;font-size:15.4px;line-height:15px;transform:scaleX(1.0204);color:#535c69;">Michał Rad</span>
<div class="abs" style="left:1607px;top:262px;width:9px;height:590px;background:linear-gradient(90deg,rgba(120,125,135,0),rgba(120,125,135,.09))"></div>
<div class="abs" style="left:1563px;top:544.5px;width:108.4px;height:108.4px;border-radius:50%;background:rgba(221,222,225,.96)"></div>
<svg class="abs" style="left:1586px;top:580px" width="26" height="38" fill="none" stroke="#fff" stroke-width="4.2" stroke-linecap="square" stroke-linejoin="miter"><path d="M6.6 6.4 L18.6 18.7 L6.6 31"/></svg>
<div class="abs" style="left:97px;top:845px;width:1519px;height:7px;background:linear-gradient(180deg,rgba(82,92,105,0),rgba(82,92,105,.14))"></div>
<div class="abs" style="left:97px;top:851.6px;width:1519px;height:64px;background:#fff"></div>
<svg class="abs" style="left:122px;top:877px" width="16" height="16" fill="none" stroke="#535c69" stroke-width="3" stroke-linecap="butt"><path d="M2.6 2.8 L13.2 13.2 M13.2 2.8 L2.6 13.2"/></svg>
<span class="t" style="left:146.80px;top:879px;font-size:14.2px;line-height:14px;transform:scaleX(0.9096);color:#535c69;-webkit-text-stroke:.35px #535c69;">USUŃ</span>
<svg class="abs" style="left:212px;top:878px" width="15" height="15" viewBox="0 0 15 15" fill="#535c69"><path d="M10.3 1.9 L13.1 4.7 L5.3 12.5 L2.5 9.7 Z M1.9 10.5 L4.5 13.1 L0.9 14.1 Z"/><path d="M10.2 0.9 a0.9 0.9 0 0 1 1.3 0 l2.4 2.4 a0.9 0.9 0 0 1 0 1.3 l-0.2 0.2 l-3.7 -3.7 Z" fill="none"/></svg>
<span class="t" style="left:234.40px;top:879px;font-size:14.2px;line-height:14px;transform:scaleX(0.8619);color:#535c69;-webkit-text-stroke:.35px #535c69;">EDYTUJ</span>
<div class="abs" style="left:298px;top:862px;width:209.6px;height:44.6px;border:1px solid #c3cad0;border-radius:3px"></div>
<span class="t" style="left:321.60px;top:879px;font-size:14.2px;line-height:14px;transform:scaleX(0.8900);color:#535c69;-webkit-text-stroke:.35px #535c69;">ROZPOCZNIJ WYBIERANIE</span>
<div class="abs" style="left:524px;top:862px;width:190.6px;height:44.6px;border:1px solid #c3cad0;border-radius:3px"></div>
<span class="t" style="left:541.20px;top:878px;font-size:14.2px;line-height:14px;transform:scaleX(0.9041);color:#535c69;-webkit-text-stroke:.35px #535c69;">WYBIERZ DZIAŁANIE</span>
<svg class="abs" style="left:686.40px;top:881.20px" width="12.8" height="8.0" fill="none" stroke="#3f4752" stroke-width="2.30" stroke-linecap="round" stroke-linejoin="round"><path d="M1.00 1.00 L6.40 7.00 L11.80 1.00"/></svg>
<div class="abs" style="left:735.8px;top:877.2px;width:13.2px;height:13.2px;border:1.4px solid #767676;border-radius:2.6px;background:#fff"></div>
<span class="t" style="left:755.20px;top:879px;font-size:14.2px;line-height:14px;transform:scaleX(0.8993);color:#535c69;-webkit-text-stroke:.35px #535c69;">DLA WSZYSTKICH</span>
<span class="t" style="left:1468.60px;top:880px;font-size:12.6px;line-height:13px;transform:scaleX(0.9679);color:#535c69;-webkit-text-stroke:.3px #535c69;">WYBRANO:</span>
<span class="t" style="left:1537.00px;top:880px;font-size:12.6px;line-height:13px;font-weight:bold;color:#2b3038;">1 / 20</span>
</div>
</div>
</body>
</html>
